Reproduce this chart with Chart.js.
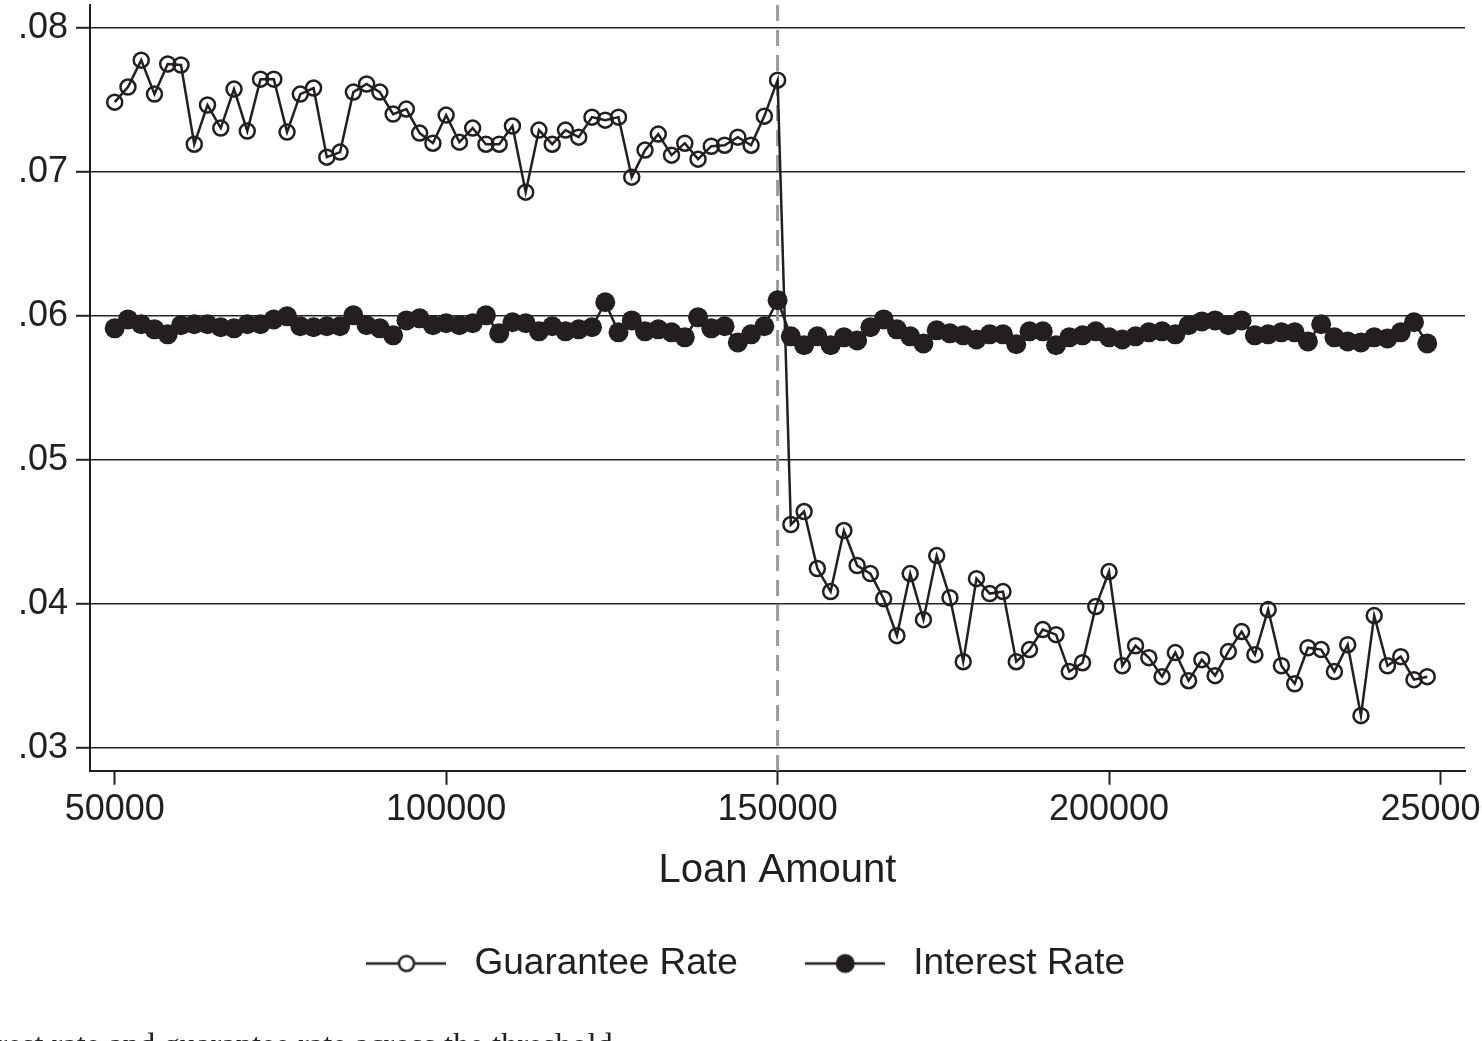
<!DOCTYPE html>
<html>
<head>
<meta charset="utf-8">
<script src="https://cdn.jsdelivr.net/npm/chart.js@4"></script>
<style>
  html, body { margin: 0; padding: 0; background: #fff; overflow: hidden; }
  #wrap { position: relative; width: 1482px; height: 1041px; overflow: hidden; }
  #caption {
    position: absolute; left: -54px; top: 1028px;
    font-family: "Liberation Serif", serif; font-size: 32.5px; line-height: 32px;
    color: #222; white-space: nowrap;
  }
</style>
</head>
<body>
<div id="wrap">
  <canvas id="rdChart" width="1482" height="1041"></canvas>
  <div id="caption">Interest rate and guarantee rate across the threshold</div>
</div>
<script>
const loanAmount = [
  50000, 52000, 54000, 56000, 58000, 60000, 62000, 64000, 66000, 68000,
  70000, 72000, 74000, 76000, 78000, 80000, 82000, 84000, 86000, 88000,
  90000, 92000, 94000, 96000, 98000, 100000, 102000, 104000, 106000, 108000,
  110000, 112000, 114000, 116000, 118000, 120000, 122000, 124000, 126000, 128000,
  130000, 132000, 134000, 136000, 138000, 140000, 142000, 144000, 146000, 148000,
  150000, 152000, 154000, 156000, 158000, 160000, 162000, 164000, 166000, 168000,
  170000, 172000, 174000, 176000, 178000, 180000, 182000, 184000, 186000, 188000,
  190000, 192000, 194000, 196000, 198000, 200000, 202000, 204000, 206000, 208000,
  210000, 212000, 214000, 216000, 218000, 220000, 222000, 224000, 226000, 228000,
  230000, 232000, 234000, 236000, 238000, 240000, 242000, 244000, 246000, 248000
];

const guaranteeRate = [
  0.07485, 0.07590, 0.07777, 0.07541, 0.07750, 0.07743, 0.07193, 0.07465, 0.07305, 0.07576,
  0.07284, 0.07645, 0.07645, 0.07277, 0.07541, 0.07583, 0.07103, 0.07138, 0.07555, 0.07611,
  0.07555, 0.07402, 0.07437, 0.07270, 0.07200, 0.07395, 0.07207, 0.07305, 0.07193, 0.07193,
  0.07319, 0.06860, 0.07291, 0.07193, 0.07291, 0.07242, 0.07381, 0.07360, 0.07381, 0.06964,
  0.07152, 0.07263, 0.07117, 0.07200, 0.07089, 0.07179, 0.07186, 0.07242, 0.07186, 0.07388,
  0.07638, 0.04551, 0.04641, 0.04245, 0.04085, 0.04509, 0.04266, 0.04210, 0.04036, 0.03779,
  0.04210, 0.03890, 0.04335, 0.04043, 0.03598, 0.04175, 0.04071, 0.04085, 0.03598, 0.03682,
  0.03821, 0.03786, 0.03529, 0.03591, 0.03981, 0.04224, 0.03570, 0.03709, 0.03626, 0.03494,
  0.03661, 0.03466, 0.03612, 0.03501, 0.03668, 0.03807, 0.03647, 0.03960, 0.03570, 0.03445,
  0.03695, 0.03682, 0.03529, 0.03716, 0.03223, 0.03918, 0.03570, 0.03633, 0.03473, 0.03494
];

const interestRate = [
  0.05914, 0.05976, 0.05942, 0.05907, 0.05872, 0.05935, 0.05942, 0.05942, 0.05921, 0.05914,
  0.05942, 0.05942, 0.05976, 0.05997, 0.05928, 0.05921, 0.05928, 0.05928, 0.06004, 0.05935,
  0.05914, 0.05865, 0.05969, 0.05983, 0.05935, 0.05949, 0.05935, 0.05949, 0.06004, 0.05879,
  0.05956, 0.05949, 0.05893, 0.05928, 0.05893, 0.05907, 0.05921, 0.06095, 0.05886, 0.05969,
  0.05893, 0.05907, 0.05886, 0.05851, 0.05990, 0.05914, 0.05928, 0.05816, 0.05872, 0.05928,
  0.06109, 0.05858, 0.05796, 0.05858, 0.05796, 0.05851, 0.05830, 0.05921, 0.05976, 0.05907,
  0.05858, 0.05809, 0.05900, 0.05879, 0.05865, 0.05837, 0.05872, 0.05872, 0.05803, 0.05893,
  0.05893, 0.05796, 0.05851, 0.05865, 0.05893, 0.05851, 0.05837, 0.05858, 0.05886, 0.05893,
  0.05872, 0.05935, 0.05962, 0.05969, 0.05935, 0.05969, 0.05865, 0.05872, 0.05886, 0.05886,
  0.05823, 0.05942, 0.05851, 0.05823, 0.05816, 0.05851, 0.05844, 0.05886, 0.05956, 0.05809
];

const xTicks = [50000, 100000, 150000, 200000, 250000];
const yTicks = [0.03, 0.04, 0.05, 0.06, 0.07, 0.08];
const threshold = 150000;

const ink = '#231f20';
const fontFamily = '"Liberation Sans", Arial, sans-serif';

// legend symbol: short line with the marker in the middle
function legendSymbol(filled) {
  const c = document.createElement('canvas');
  c.width = 80; c.height = 24;
  const g = c.getContext('2d');
  g.strokeStyle = ink;
  g.lineWidth = 2.5;
  g.beginPath(); g.moveTo(0, 12); g.lineTo(80, 12); g.stroke();
  g.beginPath(); g.arc(40, 12, filled ? 9.5 : 7.5, 0, Math.PI * 2);
  if (filled) { g.fillStyle = ink; g.fill(); }
  else { g.fillStyle = '#fff'; g.fill(); g.stroke(); }
  return c;
}

const thresholdLine = {
  id: 'thresholdLine',
  beforeDatasetsDraw(chart) {
    const {ctx, chartArea, scales} = chart;
    const x = scales.x.getPixelForValue(threshold);
    ctx.save();
    ctx.strokeStyle = '#9a9a9a';
    ctx.lineWidth = 3;
    ctx.setLineDash([16, 9]);
    ctx.beginPath();
    ctx.moveTo(x, chartArea.top);
    ctx.lineTo(x, chartArea.bottom);
    ctx.stroke();
    ctx.restore();
  }
};

const ctx = document.getElementById('rdChart');
new Chart(ctx, {
  type: 'line',
  data: {
    datasets: [
      {
        label: 'Guarantee Rate',
        data: loanAmount.map((x, i) => ({ x: x, y: guaranteeRate[i] })),
        borderColor: ink,
        borderWidth: 2.5,
        pointRadius: 7.5,
        pointBorderWidth: 2.5,
        pointBorderColor: ink,
        pointBackgroundColor: 'rgba(0,0,0,0)',
        tension: 0
      },
      {
        label: 'Interest Rate',
        data: loanAmount.map((x, i) => ({ x: x, y: interestRate[i] })),
        borderColor: ink,
        borderWidth: 2.5,
        pointRadius: 10,
        pointBorderWidth: 0,
        pointBackgroundColor: ink,
        tension: 0
      }
    ]
  },
  options: {
    responsive: false,
    animation: false,
    layout: { autoPadding: false, padding: { top: 5, left: 17, right: 17, bottom: 49 } },
    scales: {
      x: {
        type: 'linear',
        min: 46274,
        max: 253696,
        afterBuildTicks: s => { s.ticks = xTicks.map(v => ({ value: v })); },
        afterFit: s => { s.paddingLeft = 0; s.paddingRight = 0; },
        ticks: {
          color: ink,
          padding: 4,
          maxRotation: 0,
          autoSkip: false,
          font: { family: fontFamily, size: 36 },
          callback: v => String(v)
        },
        grid: {
          drawOnChartArea: false,
          drawTicks: true,
          tickLength: 14,
          tickWidth: 2,
          tickColor: ink
        },
        border: { display: true, color: ink, width: 2 },
        title: {
          display: true,
          text: 'Loan Amount',
          color: ink,
          font: { family: fontFamily, size: 40 },
          padding: { top: 11, bottom: -8 }
        }
      },
      y: {
        min: 0.0284,
        max: 0.0816,
        afterBuildTicks: s => { s.ticks = yTicks.map(v => ({ value: v })); },
        afterFit: s => { s.width = 73; s.paddingTop = 0; s.paddingBottom = 0; },
        ticks: {
          color: ink,
          padding: 8,
          font: { family: fontFamily, size: 36 },
          callback: v => '.0' + Math.round(v * 100)
        },
        grid: {
          color: '#262626',
          lineWidth: 1.6,
          tickLength: 14,
          tickWidth: 2,
          tickColor: ink
        },
        border: { display: true, color: ink, width: 2 }
      }
    },
    plugins: {
      tooltip: { enabled: false },
      legend: {
        position: 'bottom',
        labels: {
          usePointStyle: true,
          pointStyleWidth: 99,
          padding: 58,
          color: ink,
          font: { family: fontFamily, size: 37 },
          generateLabels: () => [
            { text: 'Guarantee Rate', pointStyle: legendSymbol(false), fontColor: ink, lineWidth: 0, strokeStyle: ink, fillStyle: ink, hidden: false, datasetIndex: 0 },
            { text: 'Interest Rate', pointStyle: legendSymbol(true), fontColor: ink, lineWidth: 0, strokeStyle: ink, fillStyle: ink, hidden: false, datasetIndex: 1 }
          ]
        }
      }
    }
  },
  plugins: [thresholdLine]
});
</script>
</body>
</html>
